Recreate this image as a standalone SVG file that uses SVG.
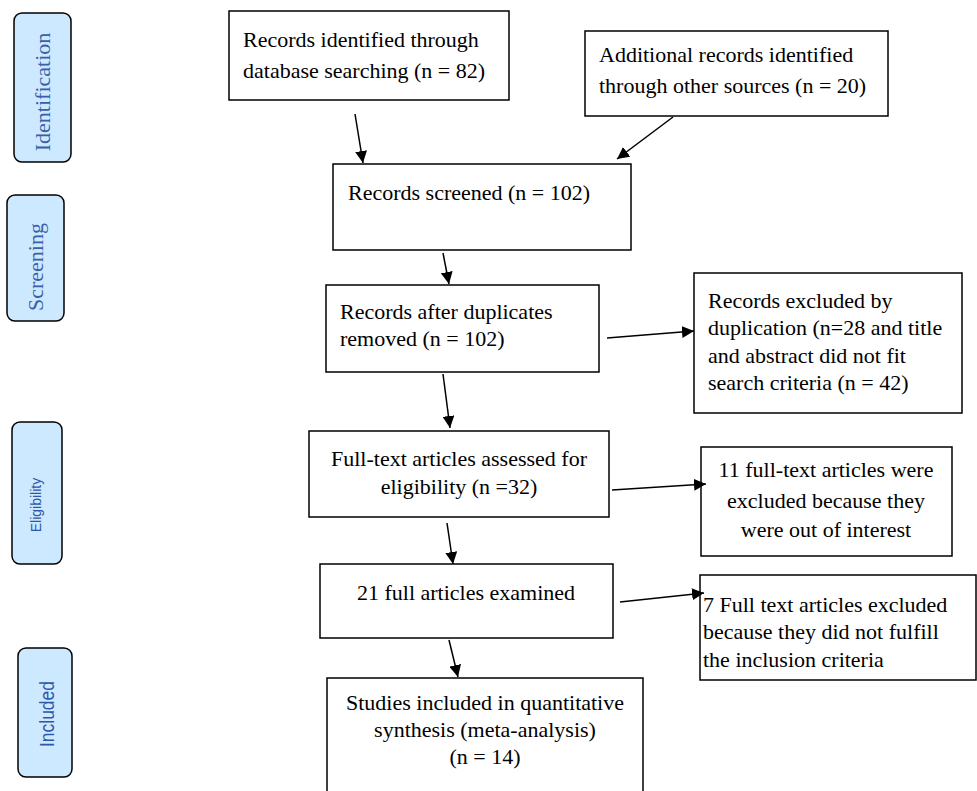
<svg xmlns="http://www.w3.org/2000/svg" width="977" height="791" viewBox="0 0 977 791">
<defs>
<marker id="ah" markerUnits="userSpaceOnUse" markerWidth="12" markerHeight="12" refX="12" refY="6" orient="auto" viewBox="0 0 12 12">
<path d="M0,0 L12,6 L0,12 z" fill="#000"/>
</marker>
</defs>
<style>
.box{fill:#fff;stroke:#000;stroke-width:1.5}
.side{fill:#cde9ff;stroke:#000;stroke-width:1.5}
.t{font-family:"Liberation Serif","Times New Roman",serif;font-size:22px;fill:#000}
.c{text-anchor:middle}
.st{font-family:"Liberation Serif",serif;font-size:22px;fill:#3a5ea8;text-anchor:middle}
.ss{font-family:"Liberation Sans","Open Sans",sans-serif;fill:#2f57a8;text-anchor:middle}
.conn line{stroke:#000;stroke-width:1.5;marker-end:url(#ah)}
</style>
<rect width="977" height="791" fill="#fff"/>
<g id="side-identification"><rect class="side" x="14" y="13" width="57" height="149" rx="8"/><text class="st" transform="translate(50,92) rotate(-90)">Identification</text></g>
<g id="side-screening"><rect class="side" x="7" y="195" width="57" height="126" rx="8"/><text class="st" transform="translate(43,267) rotate(-90)">Screening</text></g>
<g id="side-eligibility"><rect class="side" x="12" y="422" width="50" height="142" rx="8"/><text class="ss" font-size="14" transform="translate(41,505) rotate(-90)">Eligibility</text></g>
<g id="side-included"><rect class="side" x="18" y="648" width="54" height="129" rx="8"/><text class="ss" font-size="20" textLength="66" lengthAdjust="spacingAndGlyphs" transform="translate(54,714) rotate(-90)">Included</text></g>
<g id="n1"><rect class="box" x="229" y="11" width="280" height="89"/><text class="t" x="243" y="47">Records identified through</text><text class="t" x="243" y="78">database searching (n = 82)</text></g>
<g id="n2"><rect class="box" x="585" y="31" width="303" height="85"/><text class="t" x="599" y="62">Additional records identified</text><text class="t" x="599" y="93">through other sources (n = 20)</text></g>
<g id="n3"><rect class="box" x="333" y="164" width="298" height="86"/><text class="t" x="348" y="200">Records screened (n = 102)</text></g>
<g id="n4"><rect class="box" x="326" y="285" width="273" height="87"/><text class="t" x="340" y="319">Records after duplicates</text><text class="t" x="340" y="346">removed (n = 102)</text></g>
<g id="n5"><rect class="box" x="694" y="273" width="268" height="140"/><text class="t" x="708" y="308">Records excluded by</text><text class="t" x="708" y="335">duplication (n=28 and title</text><text class="t" x="708" y="363">and abstract did not fit</text><text class="t" x="708" y="390">search criteria (n = 42)</text></g>
<g id="n6"><rect class="box" x="309" y="431" width="300" height="86"/><text class="t c" x="459" y="466">Full-text articles assessed for</text><text class="t c" x="459" y="494">eligibility (n =32)</text></g>
<g id="n7"><rect class="box" x="701" y="447" width="251" height="109"/><text class="t c" x="826" y="477">11 full-text articles were</text><text class="t c" x="826" y="508">excluded because they</text><text class="t c" x="826" y="537">were out of interest</text></g>
<g id="n8"><rect class="box" x="320" y="564" width="293" height="74"/><text class="t c" x="466" y="600">21 full articles examined</text></g>
<g id="n9"><rect class="box" x="700" y="575" width="276" height="105"/><text class="t" x="703" y="612">7 Full text articles excluded</text><text class="t" x="703" y="639">because they did not fulfill</text><text class="t" x="703" y="667">the inclusion criteria</text></g>
<g id="n10"><rect class="box" x="327" y="678" width="316" height="130"/><text class="t c" x="485" y="710">Studies included in quantitative</text><text class="t c" x="485" y="737">synthesis (meta-analysis)</text><text class="t c" x="485" y="764">(n = 14)</text></g>
<g id="connectors" class="conn">
<line x1="355" y1="114" x2="363" y2="163"/>
<line x1="673" y1="117" x2="617" y2="159"/>
<line x1="443" y1="253" x2="449" y2="284"/>
<line x1="607" y1="338" x2="694" y2="331"/>
<line x1="443" y1="374" x2="450" y2="428"/>
<line x1="612" y1="490" x2="706" y2="484"/>
<line x1="447" y1="523" x2="453" y2="564"/>
<line x1="620" y1="602" x2="704" y2="593"/>
<line x1="449" y1="640" x2="458" y2="677"/>
</g>
</svg>
